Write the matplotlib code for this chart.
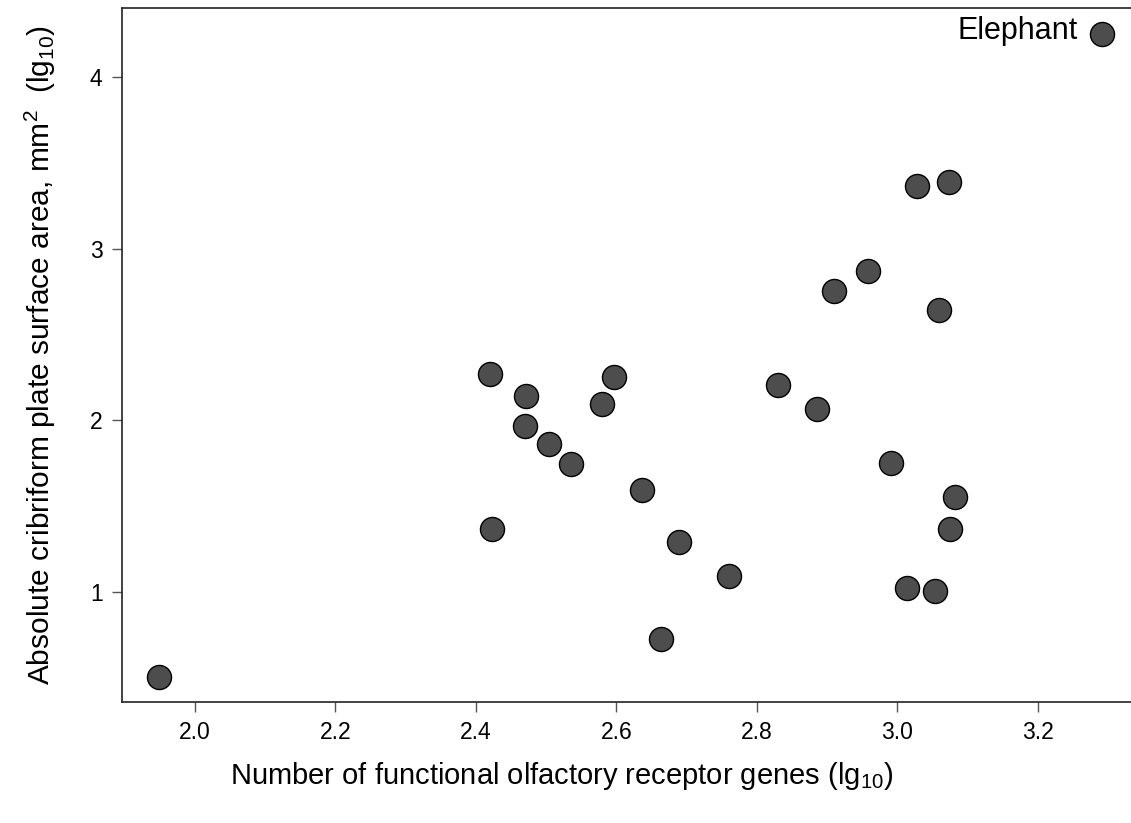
import matplotlib
matplotlib.use("Agg")
import matplotlib.pyplot as plt

plt.rcParams['font.family'] = ['Liberation Sans', 'DejaVu Sans']
plt.rcParams['mathtext.fontset'] = 'custom'
plt.rcParams['mathtext.rm'] = 'Liberation Sans'
plt.rcParams['mathtext.it'] = 'Liberation Sans:italic'

# data: log10 number of functional OR genes vs log10 cribriform plate area
or_genes = [1.949, 2.420, 2.4225, 2.471, 2.470, 2.504, 2.535, 2.579, 2.597,
            2.636, 2.663, 2.689, 2.760, 2.830, 2.885, 2.910, 2.958, 2.991,
            3.013, 3.028, 3.053, 3.059, 3.073, 3.075, 3.082, 3.291]
cp_area = [0.505, 2.27, 1.367, 2.14, 1.97, 1.86, 1.745, 2.095, 2.25,
           1.594, 0.726, 1.29, 1.093, 2.206, 2.066, 2.753, 2.87, 1.751,
           1.023, 3.365, 1.006, 2.642, 3.388, 1.367, 1.553, 4.249]
labels = {25: "Elephant"}
xticks = [2.0, 2.2, 2.4, 2.6, 2.8, 3.0, 3.2]
yticks = [1, 2, 3, 4]

fig = plt.figure(figsize=(11.31, 8.23), dpi=100)
ax = fig.add_axes([122/1131, 1-702/823, 1-122/1131, (702-8)/823])

ax.scatter(or_genes, cp_area, s=300, c='#4d4d4d', edgecolors='black',
           linewidths=1.0, zorder=3)
for i, name in labels.items():
    ax.annotate(name, (or_genes[i], cp_area[i]), xytext=(-17.5, 2),
                textcoords='offset points', ha='right', va='center',
                fontsize=22, color='black')

ax.set_xlim(1.8961, 3.3324)
ax.set_ylim(0.3594, 4.402)
ax.set_xticks(xticks)
ax.set_xticklabels([f"{t:.1f}" for t in xticks])
ax.set_yticks(yticks)
ax.set_yticklabels([str(t) for t in yticks])
ax.tick_params(axis='both', direction='out', length=7, width=1, color='#555555',
               labelsize=16.5, pad=7)
ax.spines['right'].set_visible(False)
for s in ['left', 'bottom', 'top']:
    ax.spines[s].set_linewidth(1.2)
    ax.spines[s].set_color('#222222')

ax.set_xlabel("Number of functional olfactory receptor genes (lg$_{10}$)",
              fontsize=21, va='center')
ax.xaxis.set_label_coords((562-122)/1009, -(776-702)/694)
ax.set_ylabel("Absolute cribriform plate surface area, mm$^{2}$  (lg$_{10}$)",
              fontsize=21.5, va='center')
ax.yaxis.set_label_coords(-(122-40)/1009, 0.5)

fig.savefig("out.png", dpi=100)
